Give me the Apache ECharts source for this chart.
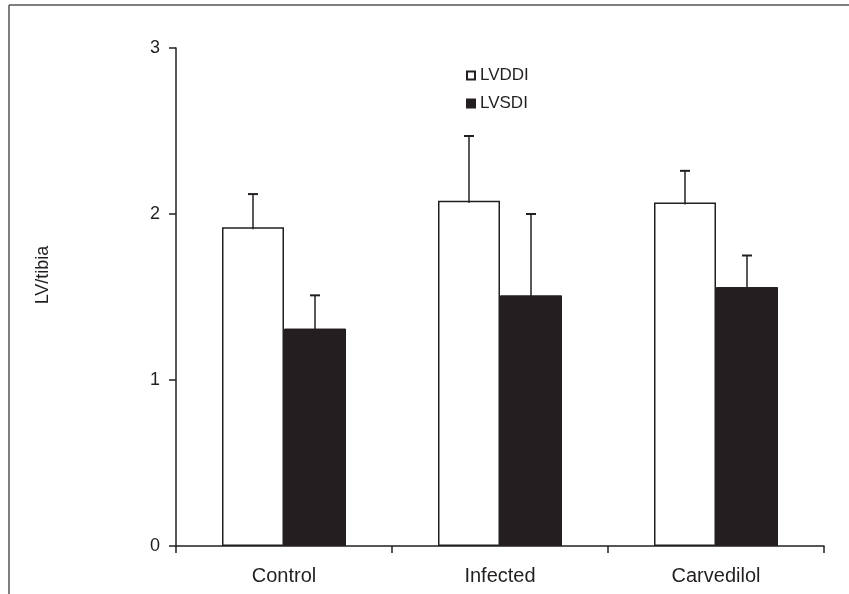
<!DOCTYPE html>
<html>
<head>
<meta charset="utf-8">
<script src="https://cdn.jsdelivr.net/npm/echarts@6/dist/echarts.min.js"></script>
<style>
  html, body { margin: 0; padding: 0; background: #fff; }
  #chart { width: 849px; height: 594px; }
</style>
</head>
<body>
<div id="chart"></div>
<script>
// groups on the x axis
const groups = ['Control', 'Infected', 'Carvedilol'];
// mean LV/tibia per group
const lvddi = [1.92, 2.08, 2.07];
const lvsdi = [1.31, 1.51, 1.56];
// upper error (SD) per group
const lvddiErr = [0.20, 0.39, 0.19];
const lvsdiErr = [0.20, 0.49, 0.19];
const yTicks = [0, 1, 2, 3];

const ink = '#231f20';
const font = '"Liberation Sans", Arial, sans-serif';
const barW = 62;

let chart = echarts.init(document.getElementById('chart'));

// draws an upward error bar with a small cap, shifted to sit on its bar
function errorBar(shift) {
    return function (params, api) {
        let base = api.coord([api.value(0), api.value(1)]);
        let top = api.coord([api.value(0), api.value(1) + api.value(2)]);
        let x = base[0] + shift;
        let style = { stroke: ink, lineWidth: 1.5 };
        return {
            type: 'group',
            children: [
                { type: 'line', shape: { x1: x, y1: base[1] + 2, x2: x, y2: top[1] }, style: style },
                { type: 'line', shape: { x1: x - 5, y1: top[1], x2: x + 5, y2: top[1] }, style: { stroke: ink, lineWidth: 2 } }
            ]
        };
    };
}

let option = {
    animation: false,
    backgroundColor: '#fff',
    textStyle: { fontFamily: font, color: ink },
    grid: { left: 176, right: 25, top: 48, bottom: 48 },
    legend: {
        data: ['LVDDI', 'LVSDI'],
        orient: 'vertical',
        left: 461,
        top: 62,
        itemGap: 11,
        itemWidth: 8,
        itemHeight: 8,
        icon: 'rect',
        textStyle: { fontFamily: font, fontSize: 17, color: ink }
    },
    xAxis: {
        type: 'category',
        data: groups,
        axisLine: { lineStyle: { color: ink, width: 1.5 } },
        axisTick: { show: true, length: 7, lineStyle: { color: ink, width: 1.5 } },
        axisLabel: { fontFamily: font, fontSize: 20, color: ink, margin: 20 }
    },
    yAxis: {
        type: 'value',
        min: yTicks[0],
        max: yTicks[yTicks.length - 1],
        interval: 1,
        name: 'LV/tibia',
        nameLocation: 'middle',
        nameGap: 124,
        nameTextStyle: { fontFamily: font, fontSize: 18, color: ink, padding: [0, 0, 0, 44] },
        splitLine: { show: false },
        axisLine: { show: true, lineStyle: { color: ink, width: 1.5 } },
        axisTick: { show: true, length: 7, lineStyle: { color: ink, width: 1.5 } },
        axisLabel: { fontFamily: font, fontSize: 18, color: ink, margin: 16 }
    },
    series: [
        {
            name: 'LVDDI',
            type: 'bar',
            data: lvddi,
            barWidth: barW,
            barGap: '0%',
            itemStyle: { color: '#fff', borderColor: ink, borderWidth: 1.5 }
        },
        {
            name: 'LVSDI',
            type: 'bar',
            data: lvsdi,
            barWidth: barW,
            barGap: '0%',
            itemStyle: { color: ink, borderColor: ink, borderWidth: 1 }
        },
        {
            name: 'LVDDI err',
            type: 'custom',
            renderItem: errorBar(-barW / 2),
            data: groups.map((g, i) => [i, lvddi[i], lvddiErr[i]]),
            z: 3
        },
        {
            name: 'LVSDI err',
            type: 'custom',
            renderItem: errorBar(barW / 2),
            data: groups.map((g, i) => [i, lvsdi[i], lvsdiErr[i]]),
            z: 3
        }
    ],
    graphic: [
        // frame of the original figure, cut off on the right and bottom
        { type: 'line', shape: { x1: 9, y1: 5, x2: 849, y2: 5 }, style: { stroke: '#555', lineWidth: 1.5 } },
        { type: 'line', shape: { x1: 9, y1: 5, x2: 9, y2: 594 }, style: { stroke: '#555', lineWidth: 1.5 } }
    ]
};

chart.setOption(option);
window.onresize = function () { chart.resize(); };
</script>
</body>
</html>
